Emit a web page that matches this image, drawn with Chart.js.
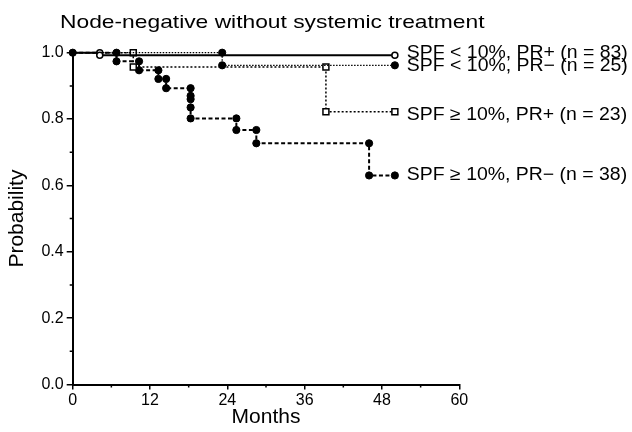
<!DOCTYPE html>
<html>
<head>
<meta charset="utf-8">
<script src="https://cdn.jsdelivr.net/npm/chart.js@4.4.1/dist/chart.umd.min.js"></script>
<style>
  html, body { margin: 0; padding: 0; background: #fff; }
  #wrap { width: 632px; height: 432px; }
</style>
</head>
<body>
<div id="wrap"><canvas id="km" width="632" height="432"></canvas></div>
<script>
// Kaplan-Meier curves (corner points of each step)
const chartTitle = 'Node-negative without systemic treatment';
const seriesLabels = [
  'SPF < 10%, PR+ (n = 83)',
  'SPF < 10%, PR\u2212 (n = 25)',
  'SPF \u2265 10%, PR+ (n = 23)',
  'SPF \u2265 10%, PR\u2212 (n = 38)'
];

const months1 = [0, 4.2, 4.2, 50];
const prob1   = [1, 1, 0.992, 0.992];

const months2 = [0, 23.2, 23.2, 50];
const prob2   = [1, 1, 0.962, 0.962];

const months3 = [0, 9.4, 9.4, 39.3, 39.3, 50];
const prob3   = [1, 1, 0.957, 0.957, 0.822, 0.822];

const months4 = [0, 6.8, 6.8, 10.3, 10.3, 13.3, 13.3, 14.5, 14.5, 18.3, 18.3, 18.3, 18.3, 18.3, 25.4, 25.4, 28.5, 28.5, 46, 46, 50];
const prob4   = [1, 1, 0.974, 0.974, 0.947, 0.947, 0.921, 0.921, 0.893, 0.893, 0.87, 0.86, 0.835, 0.802, 0.802, 0.767, 0.767, 0.727, 0.727, 0.63, 0.63];

const xMajor = [0, 12, 24, 36, 48, 60];
const xMinor = [6, 18, 30, 42, 54];
const yMinor = [0.1, 0.3, 0.5, 0.7, 0.9];

function pts(xs, ys) {
  return xs.map((x, i) => ({ x: x, y: ys[i] }));
}

// shift of each end label against its curve, in px
const labelShift = [-2.5, 0.5, 3, 0];

const FONT = "'Liberation Sans', Arial, Helvetica, sans-serif";
Chart.defaults.font.family = FONT;
Chart.defaults.color = '#000';

// the scanned lettering is a bit wider than Arial
function wideText(ctx, text, x, y, size, stretch) {
  ctx.save();
  ctx.font = size + 'px ' + FONT;
  ctx.translate(x, y);
  ctx.scale(stretch, 1);
  ctx.fillText(text, 0, 0);
  ctx.restore();
}

const endLabels = {
  id: 'endLabels',
  afterDatasetsDraw(chart) {
    const ctx = chart.ctx;
    ctx.save();
    ctx.fillStyle = '#000';
    ctx.textBaseline = 'middle';
    chart.data.datasets.forEach((ds, i) => {
      const els = chart.getDatasetMeta(i).data;
      const last = els[els.length - 1];
      wideText(ctx, seriesLabels[i], last.x + 12, last.y + labelShift[i], 18, 1.08);
    });
    ctx.textBaseline = 'alphabetic';
    wideText(ctx, chartTitle, 60, 27.5, 19, 1.2);
    ctx.restore();
  },
  afterDraw(chart) {
    const ctx = chart.ctx;
    const xs = chart.scales.x, ys = chart.scales.y;
    ctx.save();
    ctx.strokeStyle = '#000';
    ctx.lineWidth = 1.5;
    ctx.beginPath();
    xMinor.forEach(m => {
      const px = xs.getPixelForValue(m);
      ctx.moveTo(px, ys.bottom);
      ctx.lineTo(px, ys.bottom + 3);
    });
    yMinor.forEach(p => {
      const py = ys.getPixelForValue(p);
      ctx.moveTo(xs.left, py);
      ctx.lineTo(xs.left - 3, py);
    });
    ctx.stroke();
    ctx.restore();
  }
};

const skipFirst = r => c => (c.dataIndex === 0 ? 0 : r);

new Chart(document.getElementById('km'), {
  type: 'line',
  data: {
    datasets: [
      {
        label: seriesLabels[0],
        data: pts(months1, prob1),
        borderColor: '#000',
        borderWidth: 2,
        pointStyle: 'circle',
        pointRadius: skipFirst(3),
        pointBackgroundColor: '#fff',
        pointBorderColor: '#000',
        pointBorderWidth: 1.5,
        clip: false
      },
      {
        label: seriesLabels[1],
        data: pts(months2, prob2),
        borderColor: '#000',
        borderWidth: 1.3,
        borderDash: [1.5, 1.5],
        pointStyle: 'circle',
        pointRadius: 3.6,
        pointBackgroundColor: '#000',
        pointBorderColor: '#000',
        pointBorderWidth: 1,
        clip: false
      },
      {
        label: seriesLabels[2],
        data: pts(months3, prob3),
        borderColor: '#000',
        borderWidth: 1.5,
        borderDash: [2, 2],
        pointStyle: 'rect',
        pointRadius: skipFirst(4.2),
        pointBackgroundColor: '#fff',
        pointBorderColor: '#000',
        pointBorderWidth: 1.5,
        clip: false
      },
      {
        label: seriesLabels[3],
        data: pts(months4, prob4),
        borderColor: '#000',
        borderWidth: 2,
        borderDash: [4, 2.5],
        pointStyle: 'circle',
        pointRadius: skipFirst(3.6),
        pointBackgroundColor: '#000',
        pointBorderColor: '#000',
        pointBorderWidth: 1,
        clip: false
      }
    ]
  },
  options: {
    responsive: false,
    animation: false,
    devicePixelRatio: 1,
    layout: { padding: { left: 0, right: 172.7, top: 52.7, bottom: 0 } },
    plugins: {
      legend: { display: false },
      tooltip: { enabled: false }
    },
    scales: {
      x: {
        type: 'linear',
        min: 0,
        max: 60,
        afterBuildTicks: s => { s.ticks = xMajor.map(v => ({ value: v })); },
        ticks: { font: { size: 16 }, padding: 1, maxRotation: 0 },
        grid: { display: true, drawOnChartArea: false, drawTicks: true, tickLength: 5, color: '#000', lineWidth: 1.5 },
        border: { display: true, color: '#000', width: 2 },
        title: { display: true, text: 'Months', font: { size: 21 }, padding: { top: 0, bottom: 2 } },
        afterFit: s => { s.height = 47.5; }
      },
      y: {
        type: 'linear',
        min: 0,
        max: 1,
        ticks: { stepSize: 0.2, font: { size: 16 }, padding: 3, callback: v => v.toFixed(1) },
        grid: { display: true, drawOnChartArea: false, drawTicks: true, tickLength: 6, color: '#000', lineWidth: 1.5 },
        border: { display: true, color: '#000', width: 2 },
        title: { display: true, text: 'Probability', font: { size: 21 }, padding: { top: 5, bottom: 0 } },
        afterFit: s => { s.width = 72.7; }
      }
    }
  },
  plugins: [endLabels]
});
</script>
</body>
</html>
